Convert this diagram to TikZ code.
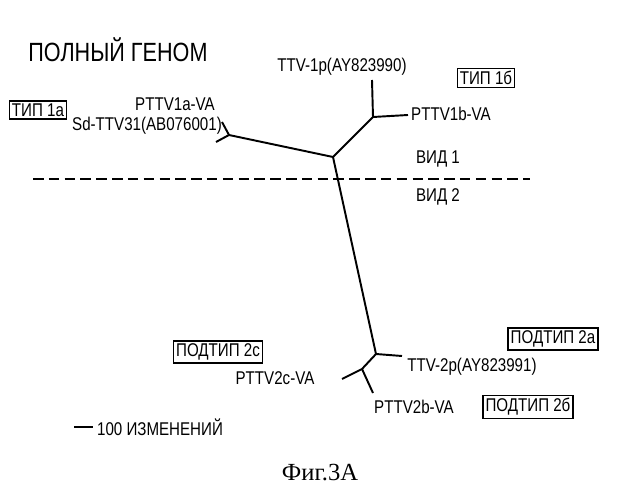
\documentclass[tikz,border=0pt]{standalone}
\usepackage{fontspec}
\setmainfont{Liberation Sans}[FakeStretch=0.82]
\newfontfamily\capfont{Liberation Serif}
\begin{document}
\begin{tikzpicture}[x=0.02cm, y=-0.02cm,
branch/.style={line width=1.1pt},
lbl/.style={inner sep=1pt, font=\fontsize{10.5}{12}\selectfont},
tag/.style={draw, line width=0.8pt, inner sep=1.5pt, font=\fontsize{10.5}{12}\selectfont}
]
\useasboundingbox (0,0) rectangle (640,500);

% tree nodes
\coordinate (c) at (333,157);
\coordinate (u) at (373,117);
\coordinate (ut) at (372,80);
\coordinate (ur) at (408,115);
\coordinate (l) at (229,135);
\coordinate (la) at (222,122);
\coordinate (lb) at (216,142);
\coordinate (b) at (376,354);
\coordinate (br) at (402,356);
\coordinate (b2) at (362,369);
\coordinate (bc) at (342,379);
\coordinate (bb) at (373,393);

\draw[branch] (c) -- (u) -- (ut);
\draw[branch] (u) -- (ur);
\draw[branch] (c) -- (l) -- (la);
\draw[branch] (l) -- (lb);
\draw[branch] (c) -- (b) -- (br);
\draw[branch] (b) -- (b2) -- (bc);
\draw[branch] (b2) -- (bb);

% species line
\coordinate (dl) at (33,179);
\coordinate (dr) at (530,179);
\draw[line width=1.1pt, dash pattern=on 6pt off 3pt] (dl) -- (dr);

% labels
\node[font=\fontsize{15}{17}\selectfont] (title) at (118,50) {ПОЛНЫЙ ГЕНОМ};
\node[tag] (t1a) at (38,110) {ТИП 1а};
\node[lbl] (p1a) at (175,104) {PTTV1a-VA};
\node[lbl] (sd) at (147,126) {Sd-TTV31(AB076001)};
\node[lbl] (t1p) at (342,67) {TTV-1p(AY823990)};
\node[tag] (t1b) at (486,78) {ТИП 1б};
\node[lbl] (p1b) at (451,114) {PTTV1b-VA};
\node[lbl] (v1) at (438,159) {ВИД 1};
\node[lbl] (v2) at (438,197) {ВИД 2};
\node[tag] (s2a) at (553,339) {ПОДТИП 2а};
\node[tag] (s2c) at (218,352) {ПОДТИП 2с};
\node[lbl] (t2p) at (472,367) {TTV-2p(AY823991)};
\node[lbl] (p2c) at (275,378) {PTTV2c-VA};
\node[lbl] (p2b) at (414,407) {PTTV2b-VA};
\node[tag] (s2b) at (528,407) {ПОДТИП 2б};

% scale bar
\coordinate (sa) at (74,427);
\coordinate (sb) at (93,427);
\draw[line width=1.1pt] (sa) -- (sb);
\node[lbl, anchor=west] (scale) at (95,427) {100 ИЗМЕНЕНИЙ};

\node[font=\capfont\fontsize{14}{16}\selectfont] (fig) at (320,473) {Фиг.3А};
\end{tikzpicture}
\end{document}
